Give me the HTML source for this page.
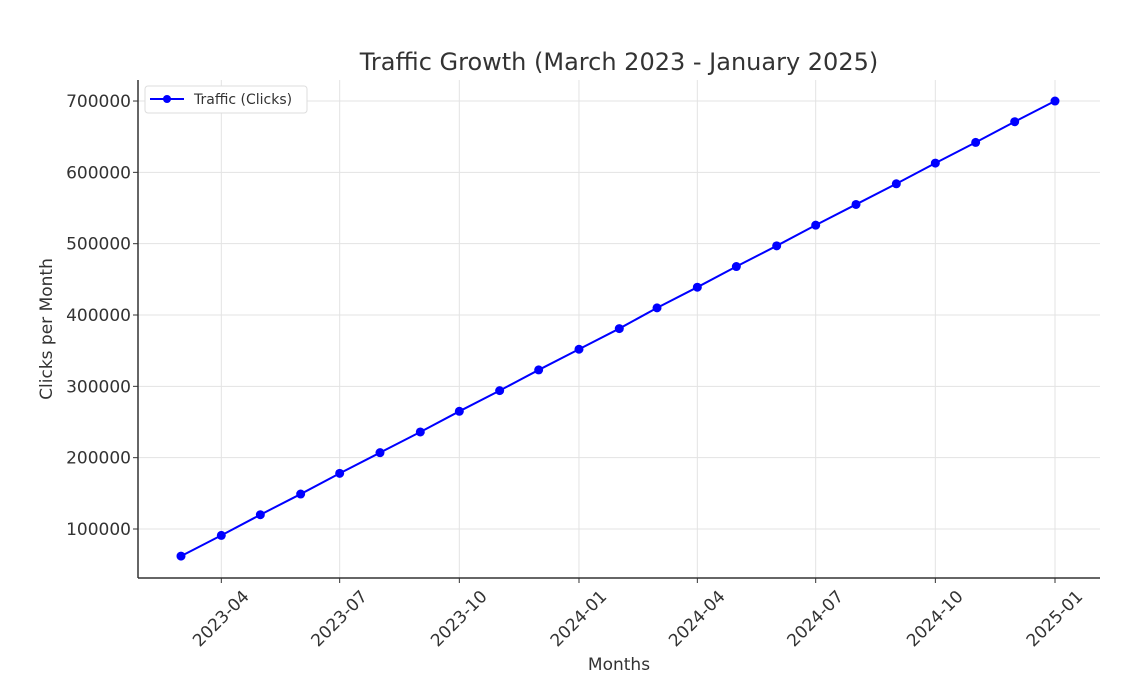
<!DOCTYPE html>
<html><head><meta charset="utf-8"><style>body{margin:0;background:#fff}svg{display:block}</style></head>
<body>
<svg id="c" width="1145" height="677" xmlns="http://www.w3.org/2000/svg" font-family="'DejaVu Sans','Liberation Sans',sans-serif">
<rect width="1145" height="677" fill="#fff"/>
<text x="619" y="70" text-anchor="middle" font-size="24" fill="#333">Traffic Growth (March 2023 - January 2025)</text>
<g id="grid" stroke="#e3e3e3" stroke-width="1"></g>
<g id="ticks"></g>
<line x1="138" y1="80" x2="138" y2="578" stroke="#333" stroke-width="1.5"/>
<line x1="138" y1="578" x2="1100" y2="578" stroke="#333" stroke-width="1.5"/>
<g id="data"></g>
<text x="619" y="670" text-anchor="middle" font-size="17" fill="#333">Months</text>
<text transform="translate(52,329) rotate(-90)" text-anchor="middle" font-size="17" fill="#333">Clicks per Month</text>
<rect x="145" y="86" width="162" height="27" rx="3" fill="#fff" stroke="#ddd"/>
<line x1="150" y1="99" x2="184" y2="99" stroke="#0000ff" stroke-width="2"/>
<circle cx="167" cy="99" r="4" fill="#0000ff"/>
<text x="194" y="104" font-size="14" fill="#333">Traffic (Clicks)</text>
</svg>
<script>
var ns="http://www.w3.org/2000/svg";
function el(p,t,a,txt){var e=document.createElementNS(ns,t);for(var k in a)e.setAttribute(k,a[k]);if(txt)e.textContent=txt;document.getElementById(p).appendChild(e);return e;}
var t0=Date.UTC(2023,2,1),t1=Date.UTC(2025,0,1);
function X(d){return 181+(d-t0)/(t1-t0)*874;}
function Y(v){return 529-(v-100000)*0.0007133;}
for(var v=100000;v<=700000;v+=100000){var y=Y(v);
el("grid","line",{x1:138,x2:1100,y1:y,y2:y});
el("ticks","line",{x1:133,x2:138,y1:y,y2:y,stroke:"#333"});
el("ticks","text",{x:131,y:y+6,"text-anchor":"end","font-size":"17",fill:"#333"},String(v));}
var labs=[[2023,3],[2023,6],[2023,9],[2024,0],[2024,3],[2024,6],[2024,9],[2025,0]];
labs.forEach(function(l){var x=X(Date.UTC(l[0],l[1],1));
el("grid","line",{x1:x,x2:x,y1:80,y2:578});
el("ticks","line",{x1:x,x2:x,y1:578,y2:583,stroke:"#333"});
var m=("0"+(l[1]+1)).slice(-2);
el("ticks","text",{x:x,y:619,"text-anchor":"middle","dominant-baseline":"central","font-size":"17",fill:"#333",transform:"rotate(-45 "+x+" 619)"},l[0]+"-"+m);});
var pts=[];
for(var i=0;i<23;i++){var d=Date.UTC(2023,2+i,1);pts.push([X(d),Y(62000+i*29000)]);}
el("data","polyline",{points:pts.map(function(p){return p.join(",")}).join(" "),fill:"none",stroke:"#0000ff","stroke-width":2});
pts.forEach(function(p){el("data","circle",{cx:p[0],cy:p[1],r:4.5,fill:"#0000ff"});});
</script>
</body></html>
